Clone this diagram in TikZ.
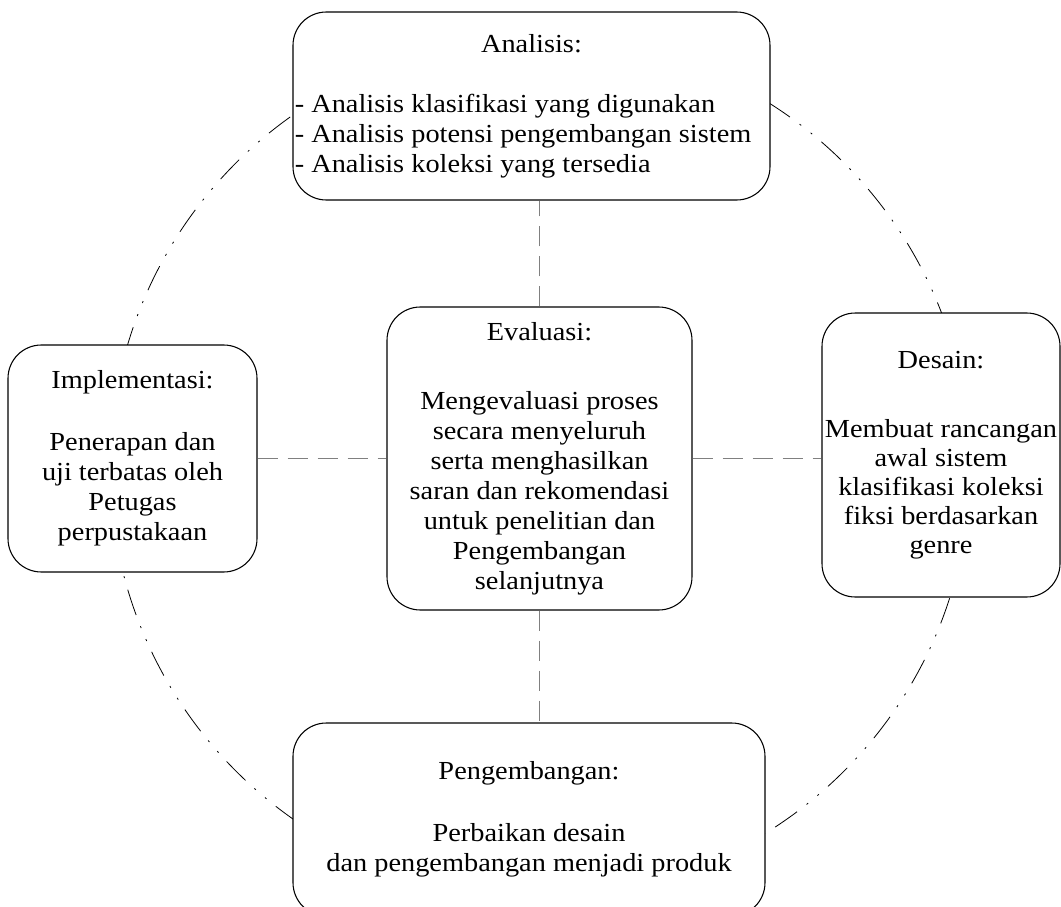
\documentclass[tikz,border=0pt]{standalone}
\usepackage{fontspec}
\setmainfont{Liberation Serif}[FakeStretch=1.09]

\tikzset{
  phase/.style={draw, line width=0.8pt, rounded corners=25pt, fill=white,
    align=center, inner sep=0pt, font=\fontsize{19.5}{22.5}\selectfont},
  link/.style={gray, line width=0.8pt, dash pattern=on 15pt off 7.5pt},
  around/.style={line width=0.6pt,
    dash pattern=on 20pt off 9pt on 1.5pt off 9pt on 1.5pt off 9pt}
}

\begin{document}
\begin{tikzpicture}[x=0.75pt, y=-0.75pt]
  \useasboundingbox (0, 0) rectangle (1061, 907);

  \draw[around] (540, 467) circle[radius=430];

  \node[phase, minimum width=357.75pt, minimum height=141pt] (ana) at (531.5, 106)
    {\begin{tabular}{@{}l@{}}
      \makebox[355pt]{Analisis:}\\
      \\
      - Analisis klasifikasi yang digunakan\\
      - Analisis potensi pengembangan sistem\\
      - Analisis koleksi yang tersedia
     \end{tabular}};
  \node[phase, minimum width=186.75pt, minimum height=170.25pt] (impl) at (132.5, 458.5)
    {Implementasi:\\[24pt] Penerapan dan\\ uji terbatas oleh\\ Petugas\\ perpustakaan};
  \node[phase, minimum width=228.75pt, minimum height=227.25pt] (eva) at (539.5, 458.5)
    {Evaluasi:\\[29pt] Mengevaluasi proses\\ secara menyeluruh\\ serta menghasilkan\\
     saran dan rekomendasi\\ untuk penelitian dan\\ Pengembangan\\ selanjutnya};
  \node[phase, minimum width=178.5pt, minimum height=213pt,
    font=\fontsize{19.5}{21.75}\selectfont] (des) at (941, 455)
    {Desain:\\[30pt] Membuat rancangan\\ awal sistem\\ klasifikasi koleksi\\
     fiksi berdasarkan\\ genre};
  \node[phase, minimum width=354pt, minimum height=144.75pt] (peng) at (529, 819.5)
    {Pengembangan:\\[24pt] Perbaikan desain\\ dan pengembangan menjadi produk};

  \draw[link] (eva.north) -- (eva.north |- ana.south);
  \draw[link] (eva.south) -- (eva.south |- peng.north);
  \draw[link] (impl.east) -- (eva.west);
  \draw[link] (eva.east) -- (eva.east -| des.west);
\end{tikzpicture}
\end{document}
